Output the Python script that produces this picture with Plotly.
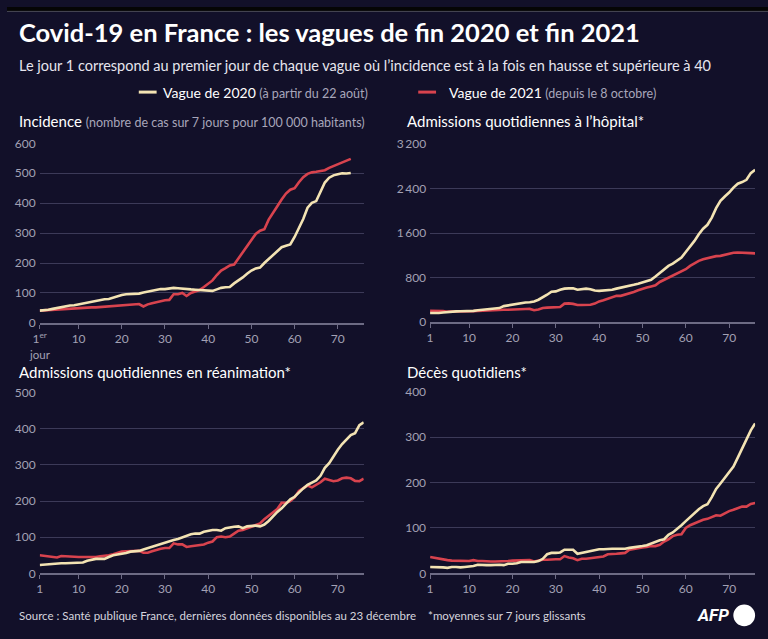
import plotly.graph_objects as go

# ---------------- DATA ----------------
days_inc = list(range(1, 74))
days_76 = list(range(1, 77))

inc_2020 = [41, 42, 44, 47, 50, 53, 56, 58, 59, 62, 65, 68, 72, 75, 78, 79, 80, 85, 89, 93,
            96, 97, 97, 98, 102, 105, 108, 112, 113, 113, 115, 117, 116, 114, 113, 112, 111, 110, 107, 106,
            107, 112, 117, 119, 120, 132, 141, 152, 164, 175, 182, 185, 200, 213, 226, 240, 253, 258, 262, 287,
            316, 347, 385, 401, 407, 440, 469, 485, 493, 497, 500, 499, 501]
inc_2021 = [41, 42, 43, 44, 45, 47, 48, 48, 49, 49, 50, 51, 52, 52, 53, 55, 56, 57, 57, 58,
            58, 59, 62, 63, 55, 62, 66, 70, 73, 76, 77, 96, 96, 100, 90, 100, 105, 110, 120, 130,
            142, 160, 175, 183, 192, 195, 215, 235, 255, 275, 297, 308, 313, 345, 370, 390, 412, 432, 445, 450,
            470, 487, 498, 503, 505, 507, 510, 518, 524, 530, 535, 542, 548]

hosp_2020 = [160, 158, 160, 170, 180, 185, 190, 192, 193, 195, 200, 210, 220, 230, 235, 240, 250, 285, 300, 310,
             320, 345, 350, 355, 370, 400, 440, 490, 545, 550, 580, 600, 605, 605, 580, 585, 600, 590, 565, 560,
             565, 570, 580, 600, 615, 630, 650, 670, 690, 715, 730, 760, 820, 880, 950, 1010, 1050, 1100, 1160, 1260,
             1350, 1460, 1580, 1680, 1750, 1880, 2050, 2180, 2260, 2330, 2420, 2490, 2520, 2560, 2680, 2740]
hosp_2021 = [200, 200, 200, 195, 185, 185, 185, 188, 190, 190, 195, 200, 205, 210, 215, 218, 218, 220, 220, 220,
             225, 230, 232, 235, 210, 225, 250, 258, 265, 268, 270, 330, 335, 325, 305, 305, 310, 310, 330, 370,
             390, 420, 450, 470, 470, 490, 515, 540, 570, 600, 620, 640, 660, 720, 760, 790, 830, 880, 910, 950,
             1010, 1060, 1100, 1130, 1150, 1170, 1185, 1190, 1210, 1230, 1245, 1250, 1250, 1240, 1240, 1235]

rea_2020 = [23, 24, 25, 28, 28, 28, 28, 29, 30, 30, 30, 35, 38, 40, 40, 40, 45, 50, 52, 53,
            56, 60, 61, 62, 66, 70, 74, 78, 82, 85, 88, 92, 95, 100, 105, 108, 110, 110, 115, 118,
            120, 120, 118, 125, 128, 129, 130, 125, 130, 132, 132, 130, 135, 145, 158, 170, 180, 193, 205, 212,
            225, 235, 245, 252, 257, 270, 292, 305, 325, 342, 358, 372, 383, 388, 410, 418]
rea_2021 = [50, 49, 48, 46, 44, 48, 47, 45, 45, 45, 45, 45, 43, 45, 47, 48, 50, 53, 57, 60,
            61, 62, 62, 62, 57, 57, 61, 65, 68, 70, 70, 83, 80, 80, 73, 75, 76, 78, 80, 85,
            88, 100, 102, 100, 102, 110, 118, 120, 125, 130, 135, 138, 150, 160, 170, 178, 195, 195, 200, 210,
            228, 235, 243, 238, 245, 252, 262, 258, 255, 257, 263, 265, 263, 256, 255, 262]

dc_2020 = [14, 14, 13, 13, 12, 14, 14, 13, 14, 15, 16, 19, 18, 18, 18, 19, 19, 18, 21, 21,
           22, 25, 25, 25, 25, 27, 32, 42, 45, 45, 46, 52, 52, 52, 43, 45, 47, 50, 51, 53,
           53, 54, 54, 54, 54, 54, 56, 57, 58, 60, 62, 66, 70, 73, 75, 85, 90, 97, 106, 115,
           124, 133, 141, 148, 152, 168, 186, 198, 210, 222, 235, 255, 275, 295, 315, 330]
dc_2021 = [36, 34, 33, 30, 29, 28, 28, 28, 28, 27, 29, 27, 27, 26, 26, 26, 26, 26, 27, 28,
           28, 28, 28, 29, 26, 28, 30, 30, 31, 31, 31, 38, 35, 33, 29, 32, 32, 33, 34, 35,
           37, 42, 42, 43, 44, 45, 52, 54, 55, 57, 58, 60, 60, 63, 70, 75, 82, 85, 86, 100,
           106, 110, 115, 118, 120, 124, 128, 127, 132, 137, 140, 143, 147, 147, 153, 155]

x_tickvals = [1, 10, 20, 30, 40, 50, 60, 70]
x_ticktext_first = ["1<sup>er</sup>", "10", "20", "30", "40", "50", "60", "70"]
x_ticktext = ["1", "10", "20", "30", "40", "50", "60", "70"]

inc_ticks = [0, 100, 200, 300, 400, 500, 600]
inc_ticktext = ["0", "100", "200", "300", "400", "500", "600"]
hosp_ticks = [0, 800, 1600, 2400, 3200]
hosp_ticktext = ["0", "800", "1\u2009600", "2\u2009400", "3\u2009200"]
rea_ticks = [0, 100, 200, 300, 400, 500]
rea_ticktext = ["0", "100", "200", "300", "400", "500"]
dc_ticks = [0, 100, 200, 300, 400]
dc_ticktext = ["0", "100", "200", "300", "400"]

# ---------------- STYLE ----------------
W, H = 768, 639
BG = "#121029"
CREAM = "#f3e3b3"
RED = "#d8434e"
GRID = "#3c3a58"
AXIS = "#6d6b84"
TICKC = "#a3a1b4"
GREY = "#a8a6ba"
FONT = "Lato, 'Open Sans', sans-serif"


def px_x(p):
    return p / W


def px_y(p):
    return 1 - p / H


fig = go.Figure()

panels = [
    ("x", "y", (33, 360), (139, 323), days_inc, inc_2020, inc_2021, inc_ticks, inc_ticktext, 600, x_ticktext_first),
    ("x2", "y2", (427, 755), (140, 322), days_76, hosp_2020, hosp_2021, hosp_ticks, hosp_ticktext, 3200, x_ticktext),
    ("x3", "y3", (33, 360), (394, 579), days_76, rea_2020, rea_2021, rea_ticks, rea_ticktext, 500, x_ticktext),
    ("x4", "y4", (427, 755), (393, 579), days_76, dc_2020, dc_2021, dc_ticks, dc_ticktext, 400, x_ticktext),
]

layout_axes = {}
for xa, ya, xd, yd, xs, y20, y21, yt, ytt, ymax, xtt in panels:
    fig.add_trace(go.Scatter(x=xs, y=y21, mode="lines", xaxis=xa, yaxis=ya,
                             line=dict(color=RED, width=2.6), showlegend=False, hoverinfo="skip"))
    fig.add_trace(go.Scatter(x=xs, y=y20, mode="lines", xaxis=xa, yaxis=ya,
                             line=dict(color=CREAM, width=2.6), showlegend=False, hoverinfo="skip"))
    xkey = "xaxis" if xa == "x" else "xaxis" + xa[1:]
    ykey = "yaxis" if ya == "y" else "yaxis" + ya[1:]
    layout_axes[xkey] = dict(
        domain=[px_x(xd[0]), px_x(xd[1])], anchor=ya, range=[1, 76],
        tickvals=x_tickvals, ticktext=xtt, showgrid=False, zeroline=False,
        showline=True, linecolor=AXIS, linewidth=1.5, ticks="outside", ticklen=4,
        tickcolor=AXIS, tickwidth=1, tickfont=dict(family=FONT, size=12, color=TICKC),
        fixedrange=True,
    )
    layout_axes[ykey] = dict(
        domain=[px_y(yd[1]), px_y(yd[0])], anchor=xa, range=[0, ymax * 1.002],
        tickvals=yt, ticktext=ytt, showgrid=True, gridcolor=GRID, gridwidth=1.2,
        zeroline=False, showline=False, ticks="", ticklabelstandoff=3,
        tickfont=dict(family=FONT, size=12, color=TICKC), fixedrange=True,
    )

annotations = []


def ann(text, xp, yp, size, color="#ffffff", xanchor="left", bold=False, family=FONT):
    annotations.append(dict(
        text=("<b>%s</b>" % text) if bold else text, x=px_x(xp), y=px_y(yp),
        xref="paper", yref="paper", xanchor=xanchor, yanchor="middle",
        showarrow=False, font=dict(family=family, size=size, color=color), align="left",
    ))


ann("Covid-19 en France : les vagues de fin 2020 et fin 2021", 10, 26, 25.5, bold=True)
ann("Le jour 1 correspond au premier jour de chaque vague où l\u2019incidence est à la fois en hausse et supérieure à 40",
    10, 60, 14.5, color="#e6e5ee")
ann("Vague de 2020 <span style='color:%s;font-size:12.5px'>(à partir du 22 août)</span>" % GREY, 155, 87, 14)
ann("Vague de 2021 <span style='color:%s;font-size:12.5px'>(depuis le 8 octobre)</span>" % GREY, 444, 87, 14)
ann("Incidence <span style='color:%s;font-size:12.5px'>(nombre de cas sur 7 jours pour 100 000 habitants)</span>" % GREY,
    10, 117, 15)
ann("Admissions quotidiennes à l\u2019hôpital*", 402, 117, 15)
ann("Admissions quotidiennes en réanimation*", 10, 373, 15)
ann("Décès quotidiens*", 402, 373, 15)
ann("jour", 33, 355, 11.5, color=TICKC, xanchor="center")
ann("Source : Santé publique France, dernières données disponibles au 23 décembre", 10, 622, 11.5, color="#d6d5de")
ann("*moyennes sur 7 jours glissants", 423, 622, 11.5, color="#d6d5de")
ann("<i>AFP</i>", 731, 622, 17, bold=True, xanchor="right", family="Roboto, Lato, sans-serif")

shapes = [
    dict(type="rect", xref="paper", yref="paper", x0=0, x1=1, y0=px_y(4), y1=1,
         fillcolor="#050505", line=dict(width=0), layer="above"),
    dict(type="line", xref="paper", yref="paper", x0=0, x1=1, y0=px_y(4.5), y1=px_y(4.5),
         line=dict(color="#4a4a56", width=1)),
    dict(type="line", xref="paper", yref="paper", x0=px_x(133), x1=px_x(151), y0=px_y(87), y1=px_y(87),
         line=dict(color=CREAM, width=3)),
    dict(type="line", xref="paper", yref="paper", x0=px_x(415), x1=px_x(433), y0=px_y(87), y1=px_y(87),
         line=dict(color=RED, width=3)),
    dict(type="circle", xref="paper", yref="paper", x0=px_x(733), x1=px_x(755), y0=px_y(633), y1=px_y(611),
         fillcolor="#ffffff", line=dict(width=0)),
]

fig.update_layout(
    width=W, height=H, autosize=False,
    margin=dict(l=0, r=0, t=0, b=0),
    paper_bgcolor=BG, plot_bgcolor=BG,
    showlegend=False, hovermode=False,
    annotations=annotations, shapes=shapes,
    font=dict(family=FONT, color="#ffffff"),
    **layout_axes,
)

post = ("document.documentElement.style.margin='0';document.documentElement.style.padding='0';"
        "document.documentElement.style.overflow='hidden';"
        "document.body.style.margin='0';document.body.style.padding='0';"
        "document.body.style.overflow='hidden';document.body.style.background='%s';" % BG)

fig.write_html("out.html", config={"displayModeBar": False}, post_script=post)
